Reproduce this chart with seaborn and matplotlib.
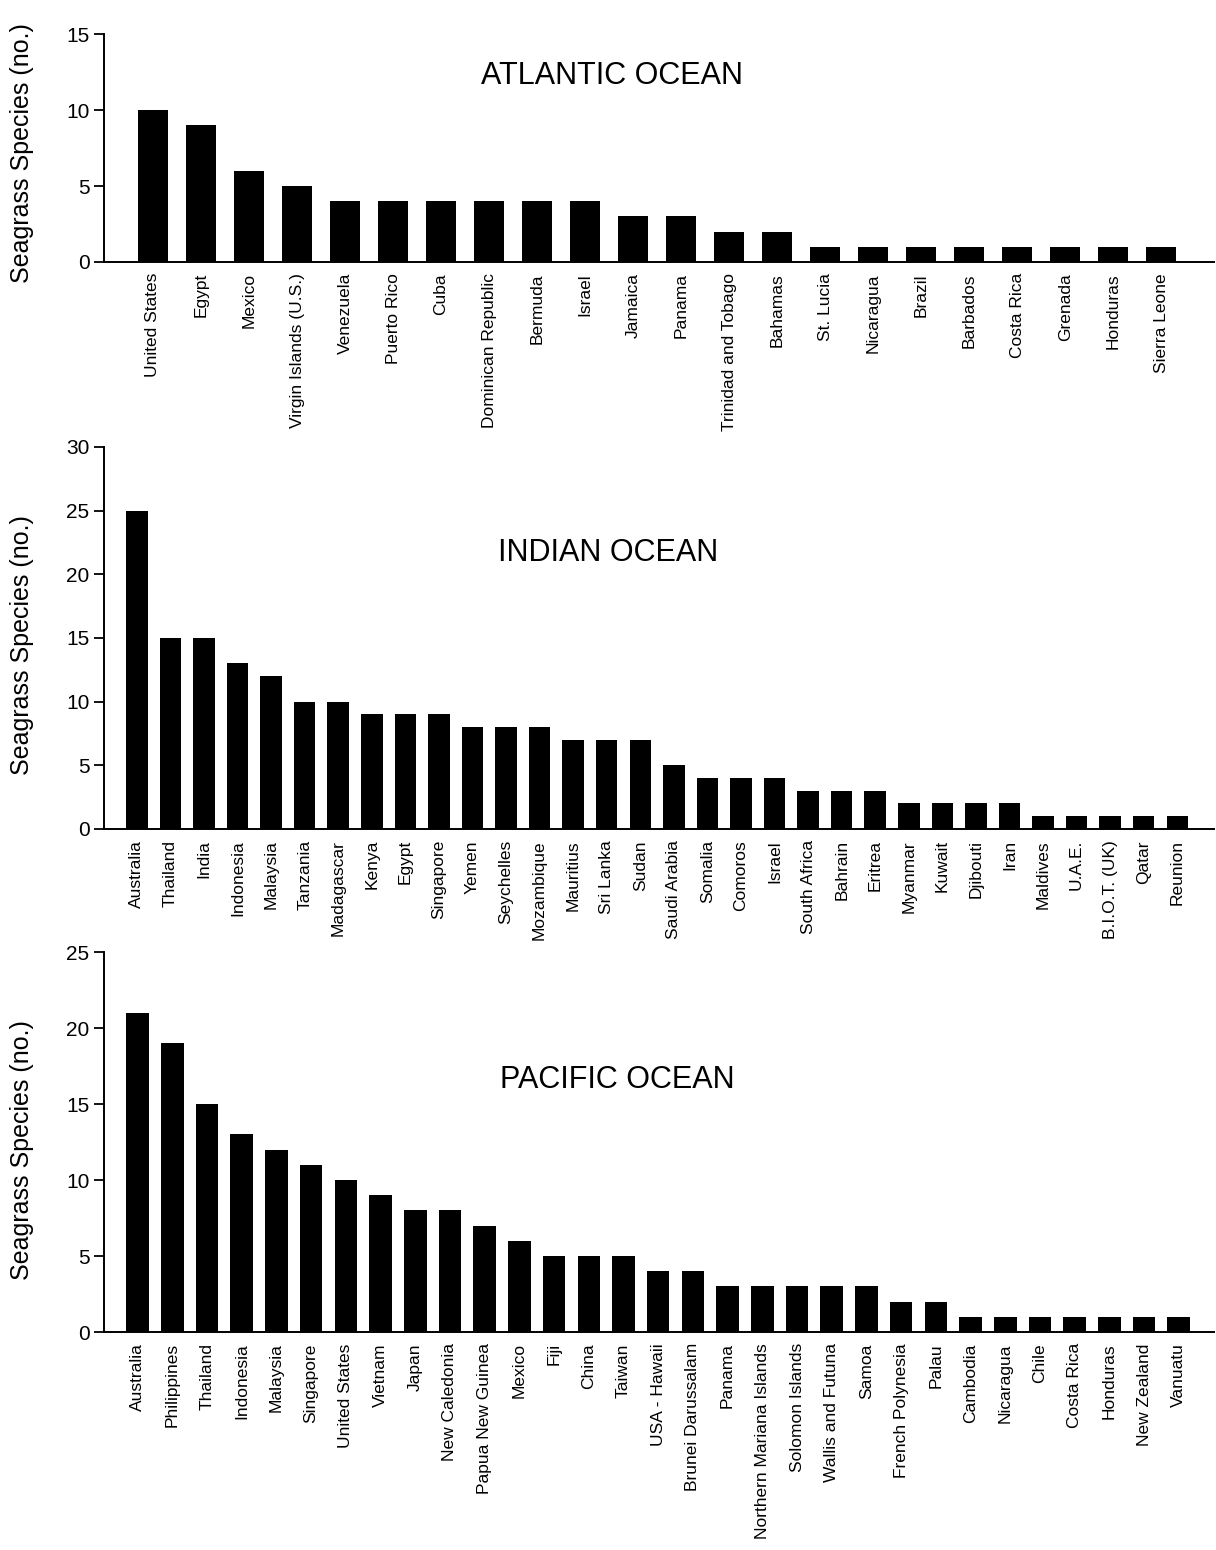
import pandas as pd
import seaborn as sns
import matplotlib.pyplot as plt

# Seagrass species counts per country, by ocean
atlantic_countries = ['United States', 'Egypt', 'Mexico', 'Virgin Islands (U.S.)', 'Venezuela',
                      'Puerto Rico', 'Cuba', 'Dominican Republic', 'Bermuda', 'Israel', 'Jamaica',
                      'Panama', 'Trinidad and Tobago', 'Bahamas', 'St. Lucia', 'Nicaragua', 'Brazil',
                      'Barbados', 'Costa Rica', 'Grenada', 'Honduras', 'Sierra Leone']
atlantic_species = [10, 9, 6, 5, 4, 4, 4, 4, 4, 4, 3, 3, 2, 2, 1, 1, 1, 1, 1, 1, 1, 1]

indian_countries = ['Australia', 'Thailand', 'India', 'Indonesia', 'Malaysia', 'Tanzania',
                    'Madagascar', 'Kenya', 'Egypt', 'Singapore', 'Yemen', 'Seychelles',
                    'Mozambique', 'Mauritius', 'Sri Lanka', 'Sudan', 'Saudi Arabia', 'Somalia',
                    'Comoros', 'Israel', 'South Africa', 'Bahrain', 'Eritrea', 'Myanmar', 'Kuwait',
                    'Djibouti', 'Iran', 'Maldives', 'U.A.E.', 'B.I.O.T. (UK)', 'Qatar', 'Reunion']
indian_species = [25, 15, 15, 13, 12, 10, 10, 9, 9, 9, 8, 8, 8, 7, 7, 7, 5, 4, 4, 4, 3, 3, 3,
                  2, 2, 2, 2, 1, 1, 1, 1, 1]

pacific_countries = ['Australia', 'Philippines', 'Thailand', 'Indonesia', 'Malaysia', 'Singapore',
                     'United States', 'Vietnam', 'Japan', 'New Caledonia', 'Papua New Guinea',
                     'Mexico', 'Fiji', 'China', 'Taiwan', 'USA - Hawaii', 'Brunei Darussalam',
                     'Panama', 'Northern Mariana Islands', 'Solomon Islands', 'Wallis and Futuna',
                     'Samoa', 'French Polynesia', 'Palau', 'Cambodia', 'Nicaragua', 'Chile',
                     'Costa Rica', 'Honduras', 'New Zealand', 'Vanuatu']
pacific_species = [21, 19, 15, 13, 12, 11, 10, 9, 8, 8, 7, 6, 5, 5, 5, 4, 4, 3, 3, 3, 3, 3, 2, 2,
                   1, 1, 1, 1, 1, 1, 1]

sns.set_style('ticks')
plt.rcParams['font.family'] = ['Liberation Sans', 'DejaVu Sans']
plt.rcParams.update({'text.color': 'black', 'axes.labelcolor': 'black',
                     'xtick.color': 'black', 'ytick.color': 'black',
                     'axes.edgecolor': 'black'})

fig = plt.figure(figsize=(12.16, 15.5), dpi=100)

panels = [
    # countries, values, title, rect, ymax, bar width, xlim, title pos
    (atlantic_countries, atlantic_species, 'ATLANTIC OCEAN',
     [0.0855, 0.831, 0.913, 0.147], 15, 0.62, (-1.02, 22.1), (0.458, 0.816)),
    (indian_countries, indian_species, 'INDIAN OCEAN',
     [0.0855, 0.4652, 0.913, 0.2465], 30, 0.64, (-0.98, 32.1), (0.4545, 0.7225)),
    (pacific_countries, pacific_species, 'PACIFIC OCEAN',
     [0.0855, 0.1406, 0.913, 0.2452], 25, 0.65, (-0.97, 31.02), (0.462, 0.663)),
]

for countries, values, title, rect, ymax, bw, xlim, tpos in panels:
    ax = fig.add_axes(rect)
    df = pd.DataFrame({'country': countries, 'species': values})
    sns.barplot(data=df, x='country', y='species', color='black', saturation=1,
                width=bw, edgecolor='none', ax=ax)
    ax.set_ylim(0, ymax)
    ax.set_yticks(range(0, ymax + 1, 5))
    ax.set_xlim(*xlim)
    ax.set_xlabel('')
    ax.set_ylabel('Seagrass Species (no.)', fontsize=18)
    ax.yaxis.set_label_coords(-0.063, 0.48)
    ax.tick_params(axis='x', length=0, labelsize=12.5, labelrotation=90, pad=8)
    ax.tick_params(axis='y', length=7, width=1.3, labelsize=15, direction='out')
    for lab in ax.get_xticklabels():
        lab.set_verticalalignment('top')
    sns.despine(ax=ax)
    ax.spines['left'].set_linewidth(1.4)
    ax.spines['bottom'].set_linewidth(1.4)
    ax.text(tpos[0], tpos[1], title, transform=ax.transAxes, ha='center', va='center',
            fontsize=22)

fig.savefig('out.png', dpi=100, facecolor='white')
